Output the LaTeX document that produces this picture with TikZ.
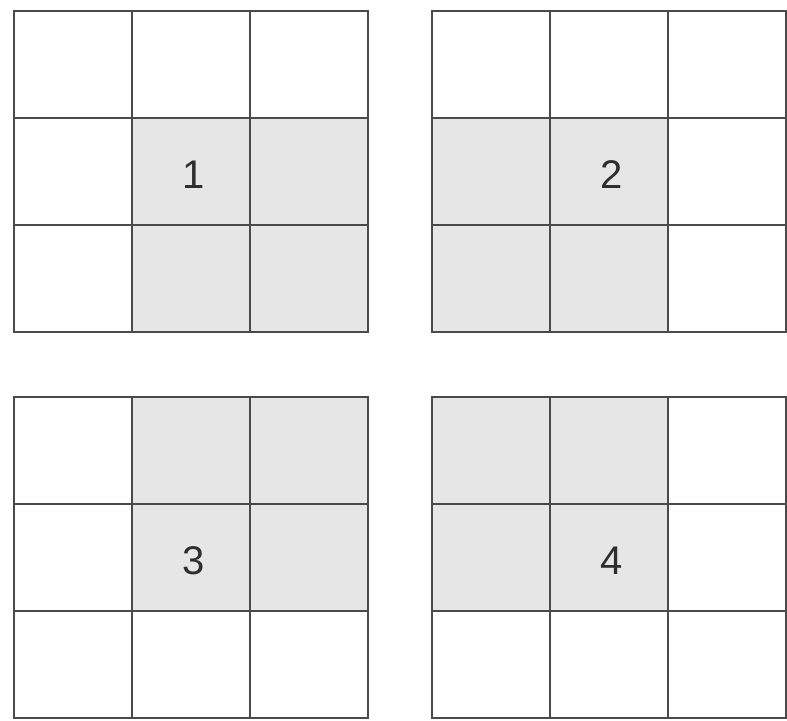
\documentclass[tikz,border=0pt]{standalone}
\usepackage{fontspec}
\setmainfont{Liberation Sans}
\usepackage{tikz}
\usetikzlibrary{positioning, backgrounds}
\definecolor{gridgray}{HTML}{4A4A4A}
\definecolor{shadegray}{HTML}{E6E6E6}
\definecolor{numgray}{HTML}{2E2E2E}
\tikzset{
	cellnode/.style={
			rectangle,
			draw=gridgray,
			line width=1.2pt,
			minimum width=59pt,
			minimum height=53.5pt,
			inner sep=0pt,
			outer sep=0pt
		},
	shadecell/.style={
			fill=shadegray
		},
	numlabel/.style={
			text=numgray,
			font=\fontsize{20}{22}\selectfont,
			inner sep=0pt
		}
}
\begin{document}
\begin{tikzpicture}[x=0.5pt, y=-0.5pt]
	\useasboundingbox (0,0) rectangle (787,720);

	% four 3x3 grids
	\foreach \gx/\gy/\g in {14/11/1, 432/11/2, 14/397/3, 432/397/4}
		\foreach \r in {1,2,3}
			\foreach \c in {1,2,3}
				\node[cellnode] (g\g r\r c\c) at (\gx+118*\c-59, \gy+107*\r-53.5) {};

	% shaded 2x2 blocks
	\begin{scope}[on background layer]
		\fill[shadecell] (g1r2c2.north west) rectangle (g1r3c3.south east);
		\fill[shadecell] (g2r2c1.north west) rectangle (g2r3c2.south east);
		\fill[shadecell] (g3r1c2.north west) rectangle (g3r2c3.south east);
		\fill[shadecell] (g4r1c1.north west) rectangle (g4r2c2.south east);
	\end{scope}

	\node[numlabel] (n1) at ([xshift=1.5pt, yshift=-1.5pt]g1r2c2) {1};
	\node[numlabel] (n2) at ([xshift=1.5pt, yshift=-1.5pt]g2r2c2) {2};
	\node[numlabel] (n3) at ([xshift=1.5pt, yshift=-1.5pt]g3r2c2) {3};
	\node[numlabel] (n4) at ([xshift=1.5pt, yshift=-1.5pt]g4r2c2) {4};
\end{tikzpicture}
\end{document}
